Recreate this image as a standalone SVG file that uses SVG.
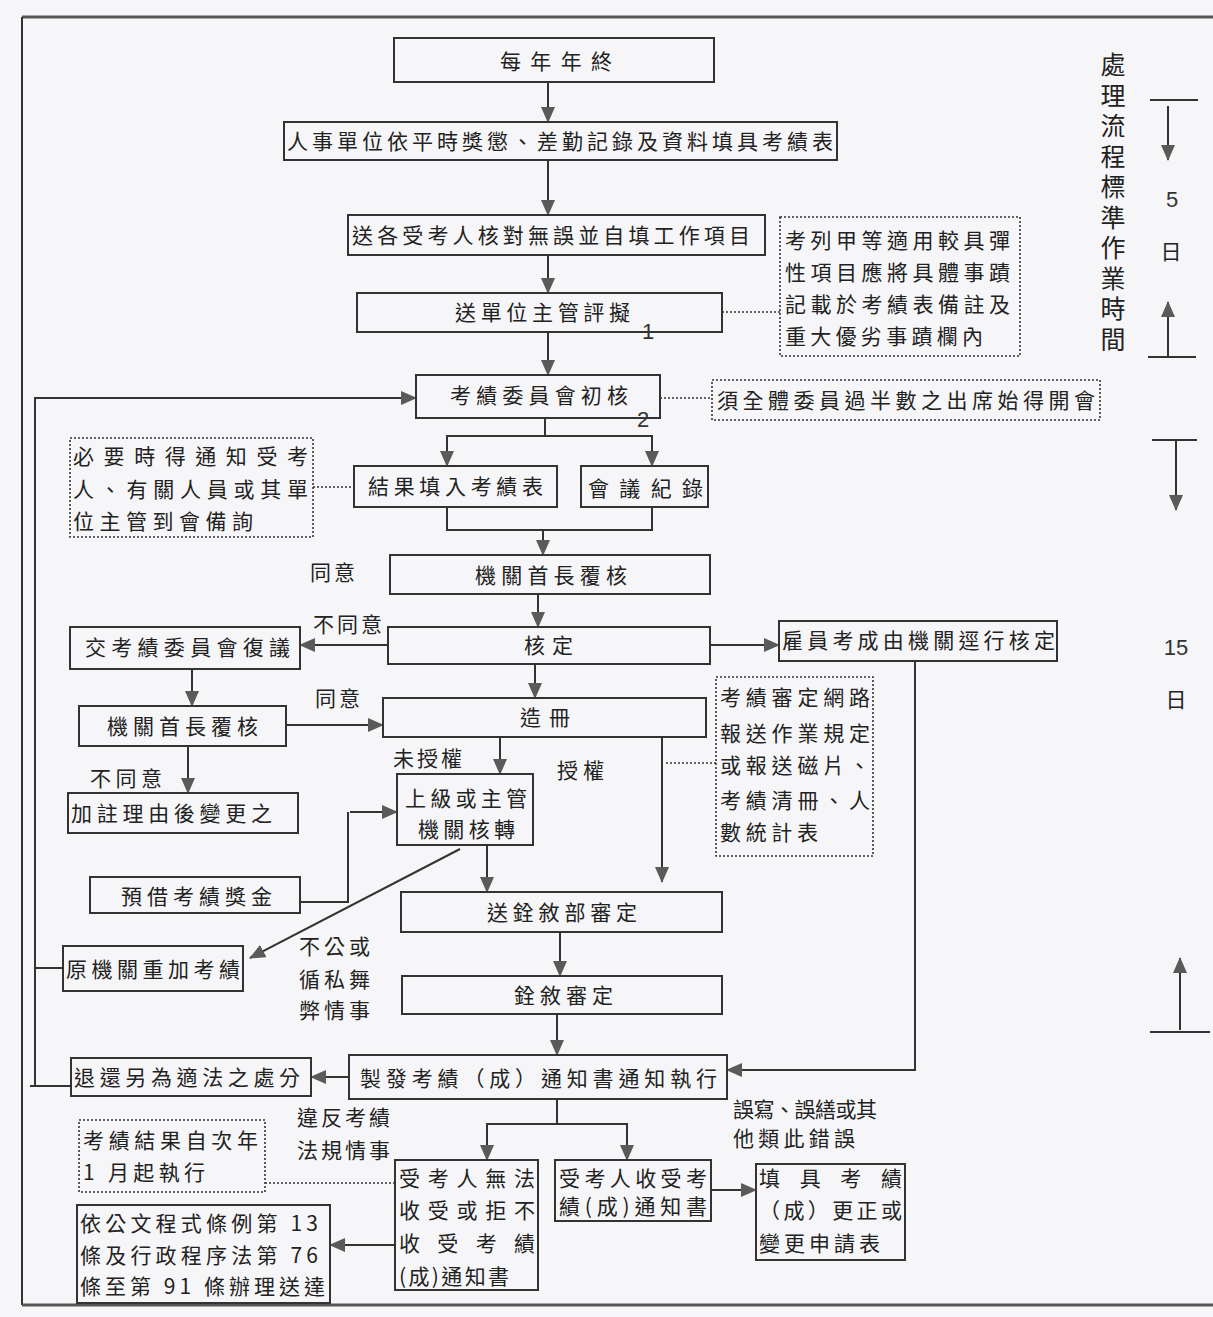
<svg xmlns="http://www.w3.org/2000/svg" width="1213" height="1317" viewBox="0 0 1213 1317">
<defs>
<marker id="ah" markerUnits="userSpaceOnUse" markerWidth="16" markerHeight="14" refX="15" refY="7" orient="auto">
<path d="M0,0 L16,7 L0,14 Z" fill="#5a5a5a"/>
</marker>
<style>
.box{fill:none;stroke:#333;stroke-width:2}
.note{fill:none;stroke:#333;stroke-width:1.6;stroke-dasharray:2,2}
.ln{fill:none;stroke:#333;stroke-width:2}
.arr{fill:none;stroke:#333;stroke-width:2;marker-end:url(#ah)}
.dot{fill:none;stroke:#333;stroke-width:1.5;stroke-dasharray:2,2}
text{font-family:"Noto Sans CJK TC","Noto Sans CJK SC",sans-serif;font-size:21px;fill:#222}
.c{text-anchor:middle}
.num{font-family:"Liberation Sans","DejaVu Sans",sans-serif;font-size:22px;fill:#333}
.side{font-size:25px;writing-mode:vertical-rl;letter-spacing:5.5px}
</style>
</defs>
<rect x="0" y="0" width="1213" height="1317" fill="#f6f6f8"/>
<g id="frame">
<line x1="22" y1="17" x2="1213" y2="17" stroke="#555" stroke-width="3"/>
<line x1="22" y1="17" x2="22" y2="1305" stroke="#333" stroke-width="2"/>
<line x1="22" y1="1305" x2="1213" y2="1305" stroke="#555" stroke-width="3"/>
</g>
<g id="connectors">
<line class="arr" x1="548" y1="82" x2="548" y2="122"/>
<line class="arr" x1="548" y1="160" x2="548" y2="215"/>
<line class="arr" x1="548" y1="255" x2="548" y2="293"/>
<line class="arr" x1="548" y1="332" x2="548" y2="375"/>
<line class="ln" x1="545" y1="418" x2="545" y2="436"/>
<line class="ln" x1="446" y1="436" x2="653" y2="436"/>
<line class="arr" x1="447" y1="436" x2="447" y2="466"/>
<line class="arr" x1="652" y1="436" x2="652" y2="466"/>
<polyline class="ln" points="447,507 447,530 652,530 652,507"/>
<line class="arr" x1="543" y1="530" x2="543" y2="555"/>
<line class="arr" x1="538" y1="594" x2="538" y2="627"/>
<line class="arr" x1="710" y1="645" x2="779" y2="645"/>
<line class="arr" x1="388" y1="645" x2="300" y2="645"/>
<line class="arr" x1="535" y1="664" x2="535" y2="698"/>
<line class="arr" x1="192" y1="669" x2="192" y2="706"/>
<line class="arr" x1="286" y1="725" x2="383" y2="725"/>
<line class="arr" x1="188" y1="746" x2="188" y2="793"/>
<line class="arr" x1="500" y1="737" x2="500" y2="774"/>
<line class="arr" x1="662" y1="737" x2="662" y2="882"/>
<line class="dot" x1="666" y1="763" x2="716" y2="763"/>
<line class="arr" x1="487" y1="845" x2="487" y2="892"/>
<line class="arr" x1="460" y1="849" x2="250" y2="958"/>
<polyline class="ln" points="300,902 348,902 348,812"/>
<line class="arr" x1="350" y1="812" x2="397" y2="812"/>
<line class="arr" x1="560" y1="932" x2="560" y2="976"/>
<line class="arr" x1="557" y1="1014" x2="557" y2="1055"/>
<polyline class="arr" points="915,661 915,1070 727,1070"/>
<line class="arr" x1="349" y1="1077" x2="311" y2="1077"/>
<line class="ln" x1="557" y1="1099" x2="557" y2="1124"/>
<line class="ln" x1="486" y1="1124" x2="628" y2="1124"/>
<line class="arr" x1="487" y1="1124" x2="487" y2="1160"/>
<line class="arr" x1="627" y1="1124" x2="627" y2="1160"/>
<line class="arr" x1="711" y1="1190" x2="756" y2="1190"/>
<line class="arr" x1="395" y1="1245" x2="330" y2="1245"/>
<line class="dot" x1="265" y1="1183" x2="395" y2="1183"/>
<line class="dot" x1="313" y1="487" x2="354" y2="487"/>
<line class="dot" x1="722" y1="312" x2="780" y2="312"/>
<line class="dot" x1="660" y1="398" x2="712" y2="398"/>
<polyline class="arr" points="35,1086 35,398 416,398"/>
<line class="ln" x1="35" y1="968" x2="63" y2="968"/>
<line class="ln" x1="30" y1="1086" x2="71" y2="1086"/>
</g>
<g id="n1"><rect class="box" x="394" y="38" width="320" height="44"/><text x="500" y="69" font-size="23" textLength="112">每年年終</text></g>
<g id="n2"><rect class="box" x="284" y="122" width="553" height="38"/><text x="287" y="149" textLength="546">人事單位依平時獎懲、差勤記錄及資料填具考績表</text></g>
<g id="n3"><rect class="box" x="348" y="215" width="417" height="40"/><text x="352" y="243" textLength="398">送各受考人核對無誤並自填工作項目</text></g>
<g id="n4"><rect class="note" x="780" y="217" width="240" height="139"/>
<text x="785" y="248" textLength="225">考列甲等適用較具彈</text>
<text x="785" y="280" textLength="225">性項目應將具體事蹟</text>
<text x="785" y="312" textLength="225">記載於考績表備註及</text>
<text x="785" y="344" textLength="198">重大優劣事蹟欄內</text></g>
<g id="n5"><rect class="box" x="357" y="293" width="365" height="39"/><text x="455" y="320" textLength="175">送單位主管評擬</text><text class="num" x="642" y="339">1</text></g>
<g id="n6"><rect class="box" x="416" y="375" width="244" height="43"/><text x="450" y="403" textLength="178">考績委員會初核</text><text class="num" x="637" y="427">2</text></g>
<g id="n7"><rect class="note" x="712" y="380" width="388" height="40"/><text x="717" y="408" textLength="378">須全體委員過半數之出席始得開會</text></g>
<g id="n8"><rect class="note" x="70" y="438" width="243" height="99"/>
<text x="73" y="464" textLength="235">必要時得通知受考</text>
<text x="73" y="497" textLength="235">人、有關人員或其單</text>
<text x="73" y="529" textLength="180">位主管到會備詢</text></g>
<g id="n9"><rect class="box" x="354" y="466" width="203" height="41"/><text x="368" y="494" textLength="175">結果填入考績表</text></g>
<g id="n10"><rect class="box" x="581" y="466" width="127" height="41"/><text x="588" y="496" font-size="25" textLength="115">會議紀錄</text></g>
<g id="n11"><rect class="box" x="390" y="555" width="320" height="39"/><text x="475" y="583" textLength="152">機關首長覆核</text></g>
<g id="lbl1"><text x="310" y="580" textLength="45">同意</text></g>
<g id="n12"><rect class="box" x="388" y="627" width="322" height="37"/><text x="524" y="653" textLength="49">核定</text></g>
<g id="lbl2"><text x="313" y="632" textLength="69">不同意</text></g>
<g id="n13"><rect class="box" x="779" y="621" width="278" height="40"/><text x="782" y="648" textLength="273">雇員考成由機關逕行核定</text></g>
<g id="n14"><rect class="box" x="70" y="627" width="230" height="42"/><text x="85" y="655" textLength="205">交考績委員會復議</text></g>
<g id="n15"><rect class="box" x="383" y="698" width="323" height="39"/><text x="520" y="725" textLength="50">造冊</text></g>
<g id="lbl3"><text x="315" y="706" textLength="45">同意</text></g>
<g id="n16"><rect class="box" x="79" y="706" width="207" height="40"/><text x="107" y="734" textLength="151">機關首長覆核</text></g>
<g id="n17"><rect class="note" x="716" y="677" width="157" height="179"/>
<text x="720" y="705" textLength="150">考績審定網路</text>
<text x="720" y="741" textLength="150">報送作業規定</text>
<text x="720" y="773" textLength="150">或報送磁片、</text>
<text x="720" y="808" textLength="150">考績清冊、人</text>
<text x="720" y="840" textLength="98">數統計表</text></g>
<g id="lbl4"><text x="393" y="766" textLength="69">未授權</text></g>
<g id="lbl5"><text x="557" y="778" textLength="47">授權</text></g>
<g id="lbl6"><text x="90" y="786" textLength="72">不同意</text></g>
<g id="n18"><rect class="box" x="397" y="774" width="136" height="71"/>
<text x="405" y="806" textLength="122">上級或主管</text>
<text x="418" y="837" textLength="97">機關核轉</text></g>
<g id="n19"><rect class="box" x="68" y="793" width="230" height="40"/><text x="71" y="821" textLength="201">加註理由後變更之</text></g>
<g id="n20"><rect class="box" x="90" y="877" width="210" height="36"/><text x="121" y="904" textLength="151">預借考績獎金</text></g>
<g id="n21"><rect class="box" x="401" y="892" width="321" height="40"/><text x="487" y="920" textLength="150">送銓敘部審定</text></g>
<g id="n22"><rect class="box" x="63" y="946" width="180" height="45"/><text x="66" y="977" textLength="174">原機關重加考績</text></g>
<g id="lbl7"><text x="299" y="954" textLength="71">不公或</text><text x="299" y="987" textLength="71">循私舞</text><text x="299" y="1018" textLength="71">弊情事</text></g>
<g id="n24"><rect class="box" x="402" y="976" width="320" height="38"/><text x="514" y="1003" textLength="99">銓敘審定</text></g>
<g id="n25"><rect class="box" x="349" y="1055" width="378" height="44"/><text x="360" y="1086" font-size="23" textLength="357">製發考績（成）通知書通知執行</text></g>
<g id="n26"><rect class="box" x="71" y="1058" width="240" height="38"/><text x="74" y="1085" textLength="226">退還另為適法之處分</text></g>
<g id="lbl8"><text x="297" y="1125" textLength="93">違反考績</text><text x="297" y="1158" textLength="93">法規情事</text></g>
<g id="lbl9"><text x="733" y="1117" font-size="20" textLength="144">誤寫、誤繕或其</text><text x="733" y="1146" font-size="20" textLength="122">他類此錯誤</text></g>
<g id="n29"><rect class="note" x="79" y="1120" width="186" height="72"/>
<text x="83" y="1148" textLength="175">考績結果自次年</text>
<text x="83" y="1180" textLength="122">1 月起執行</text></g>
<g id="n30"><rect class="box" x="395" y="1160" width="143" height="130"/>
<text x="399" y="1186" textLength="136">受考人無法</text>
<text x="399" y="1218" textLength="136">收受或拒不</text>
<text x="399" y="1251" textLength="136">收受考績</text>
<text x="399" y="1284" textLength="110">(成)通知書</text></g>
<g id="n31"><rect class="box" x="555" y="1160" width="156" height="61"/>
<text x="559" y="1186" textLength="148">受考人收受考</text>
<text x="559" y="1214" textLength="148">績(成)通知書</text></g>
<g id="n32"><rect class="box" x="756" y="1164" width="149" height="96"/>
<text x="759" y="1186" textLength="143">填具考績</text>
<text x="759" y="1218" textLength="143">（成）更正或</text>
<text x="759" y="1251" textLength="121">變更申請表</text></g>
<g id="n33"><rect class="box" x="77" y="1205" width="253" height="98"/>
<text x="80" y="1231" textLength="238">依公文程式條例第 13</text>
<text x="80" y="1263" textLength="238">條及行政程序法第 76</text>
<text x="80" y="1294" textLength="245">條至第 91 條辦理送達</text></g>
<g id="timeline">
<text class="side" x="1113" y="52">處理流程標準作業時間</text>
<line class="ln" x1="1150" y1="100" x2="1198" y2="100"/>
<line class="arr" x1="1168" y1="106" x2="1168" y2="160"/>
<text class="num c" x="1172" y="207" font-size="24" fill="#555">5</text>
<text class="c" x="1171" y="259" font-size="24" fill="#555">日</text>
<line class="arr" x1="1168" y1="356" x2="1168" y2="302"/>
<line class="ln" x1="1148" y1="357" x2="1196" y2="357"/>
<line class="ln" x1="1152" y1="440" x2="1197" y2="440"/>
<line class="arr" x1="1176" y1="440" x2="1176" y2="510"/>
<text class="num c" x="1176" y="655" font-size="24" fill="#444">15</text>
<text class="c" x="1176" y="707" font-size="24" fill="#444">日</text>
<line class="arr" x1="1180" y1="1030" x2="1180" y2="958"/>
<line class="ln" x1="1150" y1="1032" x2="1210" y2="1032"/>
</g>
</svg>
